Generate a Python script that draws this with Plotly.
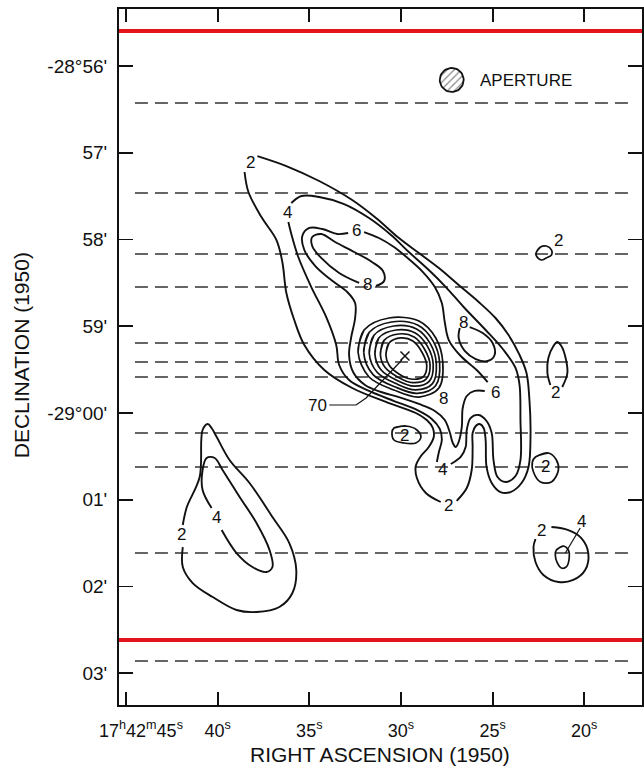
import math
import plotly.graph_objects as go

# ---------------- data ----------------
# RA: seconds past 17h42m (1950); Dec: arcmin relative to -29d00' (north positive)
x_tick_vals = [45, 40, 35, 30, 25, 20]
x_tick_text = ["&nbsp;&nbsp;&nbsp;&nbsp;&nbsp;&nbsp;17<sup>h</sup>42<sup>m</sup>45<sup>s</sup>",
               "40<sup>s</sup>", "35<sup>s</sup>", "30<sup>s</sup>", "25<sup>s</sup>", "20<sup>s</sup>"]
y_tick_vals = [4, 3, 2, 1, 0, -1, -2, -3]
y_tick_text = ["-28°56'", "57'", "58'", "59'", "-29°00'", "01'", "02'", "03'"]

scan_dec = [3.573, 2.536, 1.833, 1.452, 0.807, 0.588, 0.415, -0.231, -0.622, -1.614, -2.859]
scan_ra = [44.51, 17.39]
red_dec = [4.403, -2.617]

# main level-2 contour (two halves, broken at labels)
c2_east_ra = [37.83, 36.25, 34.46, 32.66, 31.36, 30.11, 29.02, 27.93, 26.85, 25.76, 24.84, 24.13,
              23.53, 23.15, 22.99, 22.93, 23.04, 23.42, 24.02, 24.57, 25.05, 25.33, 25.38, 25.49,
              25.71, 25.92, 26.09, 26.09, 26.14, 26.41, 26.96]
c2_east_dec = [2.962, 2.847, 2.674, 2.455, 2.248, 2.017, 1.844, 1.671, 1.475, 1.280, 1.095, 0.899,
               0.669, 0.461, 0.150, -0.231, -0.622, -0.807, -0.911, -0.911, -0.807, -0.622, -0.311,
               -0.173, -0.127, -0.150, -0.231, -0.392, -0.657, -0.865, -1.014]
c2_west_ra = [27.83, 28.64, 29.13, 29.19, 28.91, 28.48, 28.21, 28.26, 28.59, 29.19, 30.82, 32.66,
              34.18, 35.27, 35.82, 36.25, 36.47, 36.79, 37.61, 38.32, 38.53]
c2_west_dec = [-1.026, -0.922, -0.749, -0.611, -0.496, -0.392, -0.277, -0.173, -0.081, 0.0, 0.127,
               0.288, 0.496, 0.784, 1.072, 1.383, 1.741, 1.994, 2.259, 2.547, 2.778]

# level-4 contour
c4_east_ra = [35.98, 35.43, 34.46, 33.10, 31.74, 30.54, 29.57, 28.48, 27.55, 26.58, 25.38, 24.40,
              23.75, 23.53, 23.48, 23.48, 23.75, 24.29, 24.73, 24.95, 25.05, 25.33, 25.76, 26.20,
              26.41, 26.47, 26.74, 27.28]
c4_east_dec = [2.421, 2.501, 2.490, 2.409, 2.248, 2.052, 1.856, 1.648, 1.452, 1.222, 0.957, 0.726,
               0.519, 0.323, -0.081, -0.542, -0.726, -0.795, -0.738, -0.542, -0.231, -0.092, -0.023,
               -0.058, -0.196, -0.392, -0.507, -0.588]
c4_west_ra = [28.04, 27.93, 27.77, 27.88, 28.32, 29.13, 30.38, 31.74, 32.83, 33.37, 33.53, 34.08,
              34.89, 35.60, 35.98, 36.14]
c4_west_dec = [-0.565, -0.450, -0.311, -0.184, -0.069, 0.035, 0.138, 0.254, 0.380, 0.553, 0.784,
               1.107, 1.452, 1.798, 2.063, 2.202]

# level-6 contour
c6_east_ra = [32.01, 31.20, 30.38, 29.57, 28.80, 28.15, 27.77, 27.61, 27.39, 26.74, 25.87, 25.27]
c6_east_dec = [2.086, 2.017, 1.913, 1.775, 1.625, 1.452, 1.268, 1.049, 0.841, 0.657, 0.496, 0.357]
c6_west_ra = [25.43, 25.98, 26.41, 26.63, 26.68, 26.85, 27.01, 27.17, 27.34, 27.61, 28.15, 29.02,
              30.11, 31.09, 31.96, 32.61, 32.83, 32.72, 32.50, 32.50, 32.93, 33.80, 34.67, 35.27,
              35.38, 35.00, 34.29, 33.48, 32.88]
c6_west_dec = [0.254, 0.254, 0.196, 0.058, -0.161, -0.334, -0.392, -0.346, -0.219, -0.081, 0.023,
               0.104, 0.184, 0.242, 0.323, 0.473, 0.669, 0.865, 1.095, 1.268, 1.395, 1.533, 1.694,
               1.879, 2.040, 2.133, 2.121, 2.063, 2.075]

# level-8 ridges
c8_nw_ra = [32.28, 33.37, 34.35, 34.84, 34.84, 34.35, 33.59, 32.55, 31.58, 30.98, 30.92, 31.36]
c8_nw_dec = [1.499, 1.614, 1.787, 1.925, 2.029, 2.063, 1.971, 1.856, 1.741, 1.637, 1.522, 1.464]
c8_e_ra = [26.25, 25.54, 25.00, 24.89, 25.27, 25.92, 26.52, 26.85, 26.79]
c8_e_dec = [0.991, 0.922, 0.807, 0.669, 0.599, 0.622, 0.715, 0.865, 0.980]

# nested peak contours (outer -> inner)
peak1_ra = [32.34, 32.01, 30.65, 29.02, 28.10, 27.72, 27.93, 29.02, 30.38, 31.74]
peak1_dec = [0.703, 0.957, 1.095, 1.060, 0.865, 0.588, 0.288, 0.184, 0.265, 0.415]
peak2_ra = [32.03, 31.74, 30.52, 29.09, 28.25, 27.89, 28.11, 29.11, 30.33, 31.52]
peak2_dec = [0.696, 0.927, 1.049, 1.014, 0.832, 0.579, 0.314, 0.226, 0.302, 0.443]
peak3_ra = [31.73, 31.47, 30.39, 29.15, 28.40, 28.07, 28.28, 29.20, 30.27, 31.30]
peak3_dec = [0.689, 0.897, 1.003, 0.968, 0.800, 0.569, 0.339, 0.267, 0.339, 0.470]
peak4_ra = [31.42, 31.20, 30.26, 29.22, 28.55, 28.24, 28.46, 29.28, 30.22, 31.09]
peak4_dec = [0.682, 0.867, 0.957, 0.922, 0.768, 0.560, 0.364, 0.309, 0.376, 0.498]
peak5_ra = [31.12, 30.92, 30.13, 29.28, 28.71, 28.41, 28.63, 29.37, 30.16, 30.87]
peak5_dec = [0.675, 0.837, 0.911, 0.876, 0.735, 0.551, 0.390, 0.350, 0.413, 0.526]
peak6_ra = [30.82, 30.65, 30.00, 29.35, 28.86, 28.59, 28.80, 29.46, 30.11, 30.65]
peak6_dec = [0.669, 0.807, 0.865, 0.830, 0.703, 0.542, 0.415, 0.392, 0.450, 0.553]
peak_pos = (29.78, 0.657)

# isolated level-2 / level-4 patches
blob2_ra = [41.90, 41.90, 41.36, 40.27, 38.97, 37.88, 36.63, 35.92, 35.71, 36.09, 37.01, 38.26,
            39.35, 40.05, 40.33, 40.54, 40.82, 40.98, 41.68, 41.90]
blob2_dec = [-1.545, -1.775, -1.960, -2.121, -2.271, -2.294, -2.236, -2.075, -1.810, -1.499,
             -1.199, -0.807, -0.542, -0.277, -0.173, -0.127, -0.196, -0.738, -1.084, -1.291]
blob4_ra = [39.78, 38.97, 38.10, 37.34, 37.01, 37.17, 37.88, 38.80, 39.73, 40.16, 40.60, 40.82,
            40.82, 40.33]
blob4_dec = [-1.349, -1.614, -1.775, -1.833, -1.775, -1.579, -1.268, -0.968, -0.657, -0.519,
             -0.519, -0.657, -0.888, -1.095]
knot_ne_ra = [22.61, 22.39, 22.07, 21.79, 21.79, 22.07, 22.34, 22.61]
knot_ne_dec = [1.856, 1.913, 1.925, 1.879, 1.821, 1.787, 1.764, 1.810]
drop_e_ra = [21.20, 20.92, 21.03, 21.25, 21.47, 21.68, 21.96, 22.01, 21.85]
drop_e_dec = [0.300, 0.461, 0.646, 0.772, 0.818, 0.772, 0.634, 0.461, 0.323]
knot_s_ra = [30.38, 29.73, 29.13, 28.91, 29.19, 29.84, 30.38, 30.49]
knot_s_dec = [-0.173, -0.150, -0.196, -0.277, -0.346, -0.346, -0.311, -0.231]
knot_e_ra = [22.66, 21.96, 21.52, 21.41, 21.79, 22.39, 22.77, 22.83]
knot_e_dec = [-0.507, -0.461, -0.542, -0.657, -0.795, -0.795, -0.680, -0.565]
ring_se2_ra = [21.79, 20.87, 20.16, 19.78, 19.95, 20.60, 21.41, 22.23, 22.66, 22.77, 22.66]
ring_se2_dec = [-1.314, -1.349, -1.441, -1.614, -1.810, -1.925, -1.948, -1.867, -1.718, -1.545, -1.452]
ring_se4_ra = [21.52, 21.14, 20.87, 20.82, 20.98, 21.25, 21.47, 21.58]
ring_se4_dec = [-1.579, -1.533, -1.579, -1.671, -1.775, -1.787, -1.729, -1.637]

# contour labels
label_text = ["2", "4", "6", "8", "8", "6", "8", "70", "2", "4", "2", "2", "2", "2", "2", "4", "2", "4"]
label_ra = [38.21, 36.20, 32.45, 31.85, 26.58, 24.84, 27.70, 34.57, 29.78, 27.72, 27.39, 22.12,
            21.58, 21.41, 41.96, 40.05, 22.34, 20.16]
label_dec = [2.882, 2.317, 2.098, 1.487, 1.049, 0.242, 0.170, 0.081, -0.254, -0.646, -1.061, -0.622,
             0.231, 1.994, -1.406, -1.210, -1.349, -1.256]

leader70_ra = [33.91, 32.45, 31.90, 29.95]
leader70_dec = [0.092, 0.092, 0.173, 0.611]
leader4_ra = [20.22, 21.03]
leader4_dec = [-1.326, -1.614]

aperture_center = (27.23, 3.839)
aperture_radius_s = 0.652
aperture_radius_arcmin = 0.138
aperture_text_pos = (25.82, 3.838)

# ---------------- figure ----------------
fig = go.Figure()
INK = "#111111"

for d in scan_dec:
    fig.add_trace(go.Scatter(x=scan_ra, y=[d, d], mode="lines",
                             line=dict(color="#333333", width=1.6, dash="13px,7px"),
                             hoverinfo="skip", showlegend=False))

open_paths = [(c2_east_ra, c2_east_dec), (c2_west_ra, c2_west_dec),
              (c4_east_ra, c4_east_dec), (c4_west_ra, c4_west_dec),
              (c6_east_ra, c6_east_dec), (c6_west_ra, c6_west_dec),
              (c8_nw_ra, c8_nw_dec), (c8_e_ra, c8_e_dec),
              (blob2_ra, blob2_dec), (blob4_ra, blob4_dec),
              (drop_e_ra, drop_e_dec), (ring_se2_ra, ring_se2_dec)]
closed_paths = [(peak1_ra, peak1_dec), (peak2_ra, peak2_dec), (peak3_ra, peak3_dec),
                (peak4_ra, peak4_dec), (peak5_ra, peak5_dec), (peak6_ra, peak6_dec),
                (knot_ne_ra, knot_ne_dec), (knot_s_ra, knot_s_dec), (knot_e_ra, knot_e_dec),
                (ring_se4_ra, ring_se4_dec)]

for xs, ys in open_paths:
    fig.add_trace(go.Scatter(x=xs, y=ys, mode="lines",
                             line=dict(color=INK, width=1.9, shape="spline", smoothing=1.0),
                             hoverinfo="skip", showlegend=False))
for xs, ys in closed_paths:
    fig.add_trace(go.Scatter(x=list(xs) + [xs[0], xs[1]], y=list(ys) + [ys[0], ys[1]], mode="lines",
                             line=dict(color=INK, width=1.7, shape="spline", smoothing=1.0),
                             hoverinfo="skip", showlegend=False))

for xs, ys in [(leader70_ra, leader70_dec), (leader4_ra, leader4_dec)]:
    fig.add_trace(go.Scatter(x=xs, y=ys, mode="lines", line=dict(color=INK, width=1.2),
                             hoverinfo="skip", showlegend=False))

fig.add_trace(go.Scatter(x=[peak_pos[0]], y=[peak_pos[1]], mode="markers",
                         marker=dict(symbol="x-thin", size=9, line=dict(color=INK, width=1.5)),
                         hoverinfo="skip", showlegend=False))

# red horizontal markers
for d in red_dec:
    fig.add_shape(type="line", xref="paper", x0=0, x1=1, yref="y", y0=d, y1=d,
                  line=dict(color="#e3141b", width=4), layer="above")

# aperture symbol (hatched disc)
n = 48
ax = [aperture_center[0] + aperture_radius_s * math.cos(2 * math.pi * i / n) for i in range(n + 1)]
ay = [aperture_center[1] + aperture_radius_arcmin * math.sin(2 * math.pi * i / n) for i in range(n + 1)]
fig.add_trace(go.Scatter(x=ax, y=ay, mode="lines", fill="toself", fillcolor="white",
                         fillpattern=dict(shape="/", fgcolor=INK, bgcolor="white", size=5, solidity=0.25),
                         line=dict(color=INK, width=1.8), hoverinfo="skip", showlegend=False))
fig.add_annotation(x=aperture_text_pos[0], y=aperture_text_pos[1], text="APERTURE", showarrow=False,
                   xanchor="left", yanchor="middle", font=dict(size=17, color=INK))

for t, xv, yv in zip(label_text, label_ra, label_dec):
    fig.add_annotation(x=xv, y=yv, text=t, showarrow=False, xanchor="center", yanchor="middle",
                       font=dict(size=17, color=INK))

FONT = "Liberation Sans, Arial, sans-serif"
fig.update_layout(
    width=644, height=772,
    margin=dict(l=119, r=0, t=9, b=67),
    paper_bgcolor="white", plot_bgcolor="white",
    font=dict(family=FONT, color=INK, size=18),
    xaxis=dict(range=[45.38, 16.85], tickvals=x_tick_vals, ticktext=x_tick_text,
               ticks="inside", ticklen=13, tickwidth=1.8, tickcolor=INK,
               showline=True, linecolor=INK, linewidth=2, mirror="ticks",
               showgrid=False, zeroline=False, tickfont=dict(size=18), ticklabelstandoff=8),
    yaxis=dict(range=[-3.366, 4.657], tickvals=y_tick_vals, ticktext=y_tick_text,
               ticks="inside", ticklen=14, tickwidth=1.8, tickcolor=INK,
               showline=True, linecolor=INK, linewidth=2, mirror="ticks",
               showgrid=False, zeroline=False, tickfont=dict(size=19), ticklabelstandoff=6),
)
fig.add_annotation(xref="paper", yref="paper", x=0.499, y=-0.0718, text="RIGHT ASCENSION (1950)",
                   showarrow=False, xanchor="center", yanchor="middle", font=dict(size=21, color=INK))
fig.add_annotation(xref="paper", yref="paper", x=-0.1848, y=0.503, text="DECLINATION (1950)",
                   textangle=-90, showarrow=False, xanchor="center", yanchor="middle",
                   font=dict(size=21, color=INK))

# remove the default 8px page margin so the 644x772 figure fills the window exactly
fig.write_html("out.html",
               config={"displayModeBar": False, "staticPlot": True},
               post_script="document.body.style.margin='0';"
                           "document.documentElement.style.overflow='hidden';")
